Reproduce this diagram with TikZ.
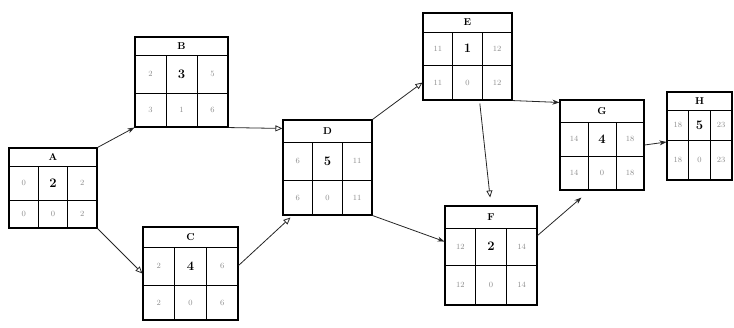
\documentclass[tikz,border=0pt]{standalone}
\usetikzlibrary{fit,arrows.meta,calc}
\tikzset{
  abox/.style={draw=black, line width=1.1pt, inner sep=0pt},
  grid/.style={draw=black, line width=0.9pt},
  lab/.style={font=\fontsize{10}{10}\selectfont\bfseries, inner sep=0pt},
  dur/.style={font=\fontsize{13}{13}\selectfont\bfseries, inner sep=0pt},
  sm/.style={font=\fontsize{8}{8}\selectfont, text=black!45, inner sep=0pt},
  conn/.style={line width=0.8pt, draw=black!85},
  fa/.style={conn, -{Stealth[length=7pt,width=5pt]}},
  oa/.style={conn, -{Triangle[open,length=7pt,width=6pt]}},
}
% #1 name, #2 left, #3 top, #4 right, #5 bottom, #6 header bottom, #7 middle bottom, #8 label
\newcommand\abx[8]{%
  \node[abox, fit={(#2,#3) (#4,#5)}] (#1) {};
  \pgfmathsetmacro\cxa{#2+(#4-#2)/3}%
  \pgfmathsetmacro\cxb{#2+2*(#4-#2)/3}%
  \draw[grid] (#2,#6) -- (#4,#6);
  \draw[grid] (#2,#7) -- (#4,#7);
  \draw[grid] (\cxa,#6) -- (\cxa,#5);
  \draw[grid] (\cxb,#6) -- (\cxb,#5);
  \pgfmathsetmacro\ccx{(#2+#4)/2}%
  \pgfmathsetmacro\ccy{(#3+#6)/2}%
  \node[lab] (#1-lab) at (\ccx,\ccy) {#8};
  \pgfmathsetmacro\pxa{#2+(#4-#2)/6}%
  \pgfmathsetmacro\pxb{#2+(#4-#2)/2}%
  \pgfmathsetmacro\pxc{#2+5*(#4-#2)/6}%
  \pgfmathsetmacro\pya{(#6+#7)/2}%
  \pgfmathsetmacro\pyb{(#7+#5)/2}%
  \coordinate (#1-c1) at (\pxa,\pya);
  \coordinate (#1-c2) at (\pxb,\pya);
  \coordinate (#1-c3) at (\pxc,\pya);
  \coordinate (#1-c4) at (\pxa,\pyb);
  \coordinate (#1-c5) at (\pxb,\pyb);
  \coordinate (#1-c6) at (\pxc,\pyb);
}
% #1 name, then ES, duration, EF, LS, slack, LF
\newcommand\avl[7]{%
  \node[sm]  (#1-es) at (#1-c1) {#2};
  \node[dur] (#1-d)  at (#1-c2) {#3};
  \node[sm]  (#1-ef) at (#1-c3) {#4};
  \node[sm]  (#1-ls) at (#1-c4) {#5};
  \node[sm]  (#1-sl) at (#1-c5) {#6};
  \node[sm]  (#1-lf) at (#1-c6) {#7};
}
\begin{document}
\begin{tikzpicture}[x=1pt,y=-1pt]
\useasboundingbox (0,0) rectangle (734,327);
\abx{A}{9}{148}{97}{228}{166}{200}{A}
\avl{A}{0}{2}{2}{0}{0}{2}
\abx{B}{135}{37}{228}{127}{55}{93}{B}
\avl{B}{2}{3}{5}{3}{1}{6}
\abx{C}{143}{227}{238}{320}{247}{285}{C}
\avl{C}{2}{4}{6}{2}{0}{6}
\abx{D}{283}{120}{372}{215}{142}{180}{D}
\avl{D}{6}{5}{11}{6}{0}{11}
\abx{E}{423}{13}{512}{100}{32}{65}{E}
\avl{E}{11}{1}{12}{11}{0}{12}
\abx{F}{445}{206}{537}{305}{228}{265}{F}
\avl{F}{12}{2}{14}{12}{0}{14}
\abx{G}{560}{100}{644}{190}{122}{156}{G}
\avl{G}{14}{4}{18}{14}{0}{18}
\abx{H}{667}{92}{732}{180}{110}{140}{H}
\avl{H}{18}{5}{23}{18}{0}{23}
% connectors
\draw[fa] (A.north east) -- (B.south west);
\draw[oa] (A.south east) -- (C.west);
\draw[oa] (B.south east) -- ([yshift=-9pt]D.north west);
\draw[oa] ([yshift=8pt]C.east) -- ([xshift=8pt,yshift=-2pt]D.south west);
\draw[oa] (D.north east) -- ([yshift=18pt]E.south west);
\draw[fa] (D.south east) -- ([yshift=14pt]F.west);
\draw[oa, shorten >=8pt, shorten <=3pt] ([xshift=12pt]E.south) -- (F.north);
\draw[fa] (E.south east) -- ([yshift=-3pt]G.north west);
\draw[fa] ([yshift=20pt]F.east) -- ([xshift=22pt,yshift=-7pt]G.south west);
\draw[fa] (G.east) -- ([yshift=-6pt]H.west);
\end{tikzpicture}
\end{document}
